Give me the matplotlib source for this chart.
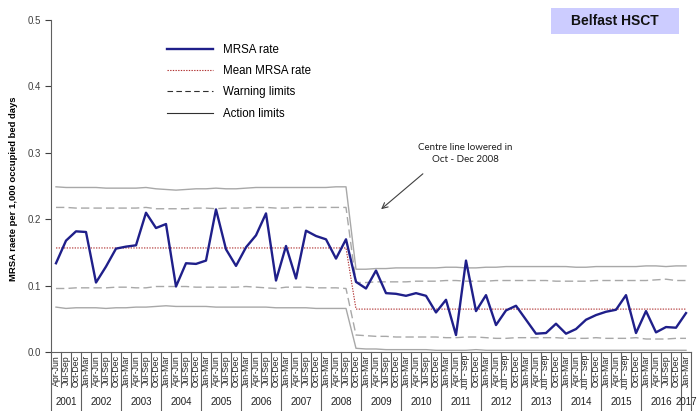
import matplotlib
matplotlib.use('Agg')
import matplotlib.pyplot as plt
from matplotlib.lines import Line2D
from matplotlib.patches import Rectangle
import numpy as np

plt.rcParams['font.family'] = ['Liberation Sans', 'DejaVu Sans']

# quarter labels, Apr-Jun 2001 .. Jan-Mar 2017
quarters = (['Apr-Jun', 'Jul-Sep', 'Oct-Dec']
            + ['Jan-Mar', 'Apr-Jun', 'Jul-Sep', 'Oct-Dec'] * 9
            + ['Jan-Mar', 'Apr-Jun', 'Jul - Sep', 'Oct-Dec'] * 5
            + ['Jan-Mar', 'Apr-Jun', 'Jul-Sep', 'Oct-Dec']
            + ['Jan-Mar'])
years = ['2001', '2002', '2003', '2004', '2005', '2006', '2007', '2008', '2009',
         '2010', '2011', '2012', '2013', '2014', '2015', '2016', '2017']
year_counts = [3] + [4] * 15 + [1]

mrsa = [0.134, 0.168, 0.182, 0.181, 0.105, 0.129, 0.156, 0.159, 0.161, 0.210,
        0.187, 0.193, 0.099, 0.134, 0.133, 0.138, 0.215, 0.155, 0.130, 0.158,
        0.176, 0.209, 0.108, 0.160, 0.111, 0.183, 0.175, 0.170, 0.141, 0.170,
        0.106, 0.096, 0.123, 0.089, 0.088, 0.085, 0.089, 0.085, 0.060, 0.079,
        0.026, 0.138, 0.062, 0.086, 0.041, 0.063, 0.070, 0.049, 0.028, 0.029,
        0.043, 0.028, 0.035, 0.049, 0.056, 0.061, 0.064, 0.086, 0.029, 0.062,
        0.030, 0.038, 0.037, 0.059]

# centre line: 0.157 until Jul-Sep 2008, lowered to 0.065 from Oct-Dec 2008
mean_rate = [0.157] * 30 + [0.065] * 34

upper_action = [0.249, 0.248, 0.248, 0.248, 0.248, 0.247, 0.247, 0.247, 0.247, 0.248,
                0.246, 0.245, 0.244, 0.245, 0.246, 0.246, 0.247, 0.246, 0.246, 0.247,
                0.248, 0.248, 0.248, 0.248, 0.248, 0.248, 0.248, 0.248, 0.249, 0.249,
                0.125, 0.125, 0.126, 0.126, 0.127, 0.127, 0.127, 0.127, 0.127, 0.128,
                0.128, 0.127, 0.127, 0.128, 0.128, 0.129, 0.129, 0.129, 0.129, 0.129,
                0.129, 0.129, 0.128, 0.128, 0.129, 0.129, 0.129, 0.129, 0.129, 0.130,
                0.130, 0.129, 0.130, 0.130]
upper_warning = [0.218, 0.218, 0.217, 0.217, 0.217, 0.217, 0.217, 0.217, 0.217, 0.218,
                 0.216, 0.216, 0.216, 0.216, 0.217, 0.217, 0.216, 0.217, 0.217, 0.217,
                 0.218, 0.218, 0.217, 0.217, 0.218, 0.218, 0.218, 0.218, 0.218, 0.218,
                 0.105, 0.105, 0.106, 0.106, 0.106, 0.106, 0.107, 0.107, 0.107, 0.108,
                 0.108, 0.107, 0.107, 0.107, 0.108, 0.108, 0.108, 0.108, 0.108, 0.108,
                 0.107, 0.107, 0.107, 0.107, 0.108, 0.108, 0.108, 0.108, 0.108, 0.108,
                 0.109, 0.110, 0.108, 0.108]
lower_warning = [0.096, 0.096, 0.097, 0.097, 0.097, 0.097, 0.098, 0.098, 0.097, 0.097,
                 0.099, 0.099, 0.099, 0.099, 0.098, 0.098, 0.098, 0.098, 0.098, 0.099,
                 0.098, 0.097, 0.096, 0.098, 0.098, 0.098, 0.097, 0.097, 0.097, 0.096,
                 0.026, 0.025, 0.024, 0.024, 0.023, 0.023, 0.023, 0.023, 0.023, 0.022,
                 0.022, 0.023, 0.023, 0.022, 0.021, 0.021, 0.022, 0.022, 0.022, 0.022,
                 0.022, 0.021, 0.021, 0.021, 0.022, 0.021, 0.021, 0.021, 0.022, 0.020,
                 0.020, 0.020, 0.021, 0.021]
lower_action = [0.068, 0.066, 0.067, 0.067, 0.067, 0.066, 0.067, 0.067, 0.068, 0.068,
                0.069, 0.070, 0.069, 0.069, 0.069, 0.069, 0.068, 0.068, 0.068, 0.068,
                0.068, 0.068, 0.067, 0.067, 0.067, 0.067, 0.066, 0.066, 0.066, 0.066,
                0.006, 0.005, 0.005, 0.004, 0.004, 0.004, 0.004, 0.004, 0.003, 0.003,
                0.003, 0.003, 0.004, 0.003, 0.003, 0.003, 0.003, 0.003, 0.003, 0.003,
                0.003, 0.003, 0.003, 0.003, 0.003, 0.003, 0.003, 0.003, 0.003, 0.003,
                0.003, 0.003, 0.003, 0.003]

W, H = 697, 411
fig = plt.figure(figsize=(W / 100, H / 100), dpi=100)
ax = fig.add_axes([51 / W, (H - 352.3) / H, 640 / W, 332.3 / H])

x = np.arange(len(mrsa))
limit_col = '#a8a8a8'
ax.plot(x, upper_action, color=limit_col, lw=1.0)
ax.plot(x, lower_action, color=limit_col, lw=1.0)
ax.plot(x, upper_warning, color=limit_col, lw=1.0, ls=(0, (6, 3)))
ax.plot(x, lower_warning, color=limit_col, lw=1.0, ls=(0, (6, 3)))
ax.plot(x, mean_rate, color='#b03030', lw=0.8, ls=(0, (1.2, 1.2)))
ax.plot(x, mrsa, color='#1f1f8a', lw=1.7)

ax.set_xlim(-0.5, len(mrsa) - 0.5)
ax.set_ylim(0, 0.5)
ax.spines['top'].set_visible(False)
ax.spines['right'].set_visible(False)
ax.spines['left'].set_color('#606060')
ax.spines['bottom'].set_color('#606060')
ax.set_yticks([0, 0.1, 0.2, 0.3, 0.4, 0.5])
ax.set_yticklabels(['0.0', '0.1', '0.2', '0.3', '0.4', '0.5'])
ax.tick_params(axis='y', labelsize=7, colors='#404040', length=4, width=0.8, pad=3)
ax.set_xticks(x)
ax.set_xticklabels(quarters, rotation=90, fontsize=6.3, va='top', ha='center')
ax.tick_params(axis='x', length=0, pad=2, colors='#202020')

# category boxes under the axis
trans = ax.get_xaxis_transform()
edges = np.cumsum([0] + year_counts)
for b in range(len(mrsa) + 1):
    low = -0.177 if b in edges else -0.105
    ax.plot([b - 0.5, b - 0.5], [0, low], transform=trans, clip_on=False,
            color='#606060', lw=0.8)
for yr, start, n in zip(years, edges[:-1], year_counts):
    ax.text(start - 0.5 + n / 2, -0.150, yr, transform=trans, ha='center',
            va='center', fontsize=7, color='#202020')

handles = [Line2D([], [], color='#1f1f8a', lw=1.7),
           Line2D([], [], color='#b03030', lw=0.8, ls=(0, (1.2, 1.2))),
           Line2D([], [], color='#303030', lw=0.8, ls=(0, (5, 3))),
           Line2D([], [], color='#303030', lw=0.8)]
ax.legend(handles, ['MRSA rate', 'Mean MRSA rate', 'Warning limits', 'Action limits'],
          loc='upper left', bbox_to_anchor=(167 / W, 1 - 44 / H),
          bbox_transform=fig.transFigure, frameon=False, fontsize=8.3,
          handlelength=4.0, handletextpad=0.9, labelspacing=0.8,
          borderpad=0, borderaxespad=0)

fig.patches.append(Rectangle((551 / W, 1 - 34 / H), 128 / W, 26 / H,
                             transform=fig.transFigure, facecolor='#ccccff',
                             edgecolor='none'))
fig.text(615 / W, 1 - 21 / H, 'Belfast HSCT', ha='center', va='center',
         fontsize=10, fontweight='bold', color='#111111')

ax.annotate('', xy=(379 / W, 1 - 211 / H), xytext=(425 / W, 1 - 172 / H),
            xycoords='figure fraction', textcoords='figure fraction',
            arrowprops=dict(arrowstyle='->', color='#404040', lw=0.8))
fig.text(465 / W, 1 - 153.5 / H, 'Centre line lowered in\nOct - Dec 2008',
         ha='center', va='center', fontsize=7, family='Lato', linespacing=1.35,
         color='#202020')

fig.text(14 / W, 1 - 189 / H, 'MRSA raete per 1,000 occupied bed days', rotation=90,
         ha='center', va='center', fontsize=6.8, fontweight='bold')

fig.savefig('out.png', dpi=100)
